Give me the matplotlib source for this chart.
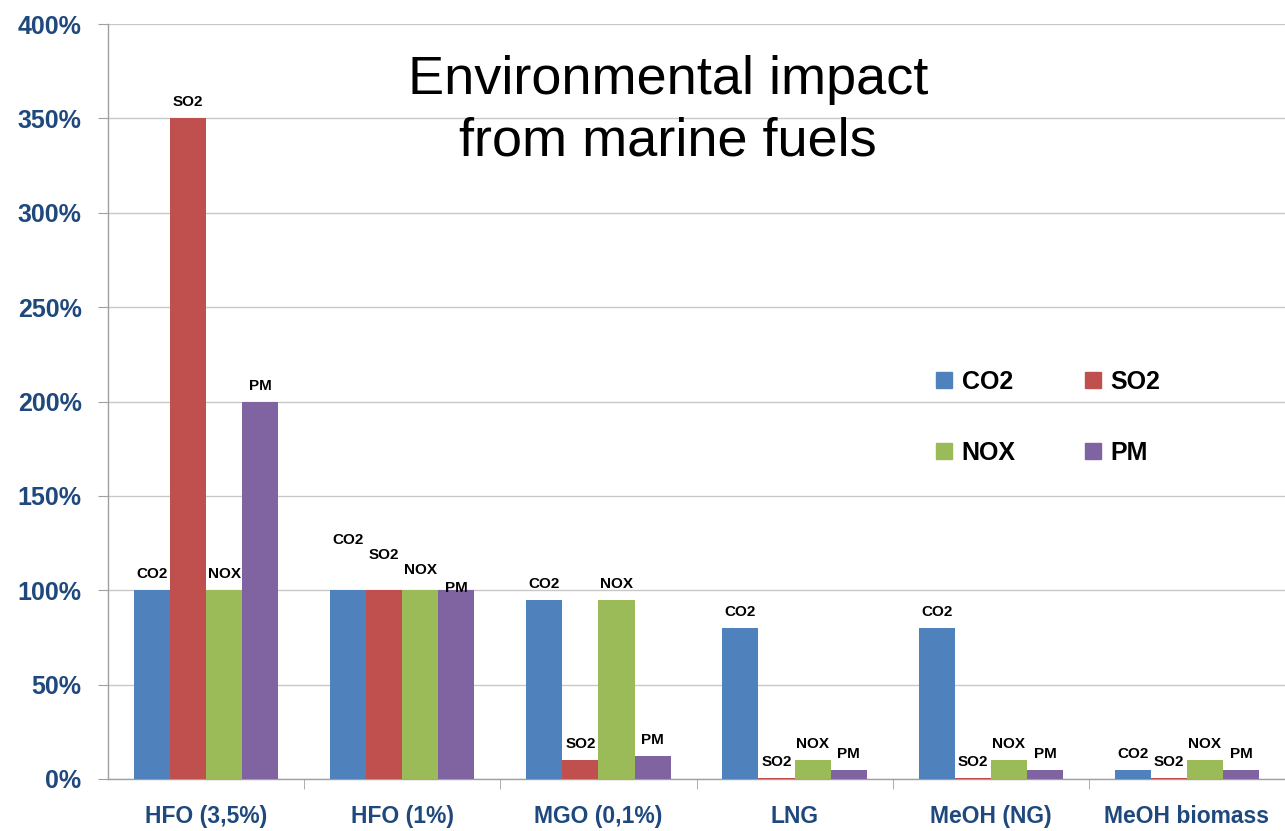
import numpy as np
import matplotlib
matplotlib.use('Agg')
import matplotlib.pyplot as plt
from matplotlib.lines import Line2D

# data (percent)
fuels = ['HFO (3,5%)', 'HFO (1%)', 'MGO (0,1%)', 'LNG', 'MeOH (NG)', 'MeOH biomass']
pollutants = ['CO2', 'SO2', 'NOX', 'PM']
co2 = [100, 100, 95, 80, 80, 5]
so2 = [350, 100, 10, 0.5, 0.5, 0.5]
nox = [100, 100, 95, 10, 10, 10]
pm = [200, 100, 12, 5, 5, 5]
yticks = [0, 50, 100, 150, 200, 250, 300, 350, 400]

series = [co2, so2, nox, pm]
colors = ['#4F81BD', '#C0504D', '#9BBB59', '#8064A2']
label_font = ['Liberation Sans', 'DejaVu Sans']
axis_blue = '#1F497D'

fig = plt.figure(figsize=(12.85, 8.31), dpi=100)
ax = fig.add_axes([108/1285, 1 - 779/831, 1 - 108/1285, (779 - 24)/831])

x = np.arange(len(fuels))
w = 0.184
# extra label lift (pixels) for the crowded HFO (1%) group
lift_hfo1 = [34, 19, 4, -14]

for i, (name, vals, c) in enumerate(zip(pollutants, series, colors)):
    xs = x + (i - 1.5) * w
    ax.bar(xs, vals, width=w, color=c, zorder=3)
    for j, (xx, v) in enumerate(zip(xs, vals)):
        off = 16 + (lift_hfo1[i] if j == 1 else 0)
        ax.annotate(name, (xx, v), xytext=(0, off), textcoords='offset pixels',
                    ha='center', va='center', fontsize=11, fontweight='bold',
                    family=label_font, zorder=4)

ax.set_xlim(-0.5, len(fuels) - 0.5)
ax.set_ylim(0, 400)
ax.set_yticks(yticks)
ax.set_yticklabels([f'{t}%' for t in yticks])
ax.set_xticks(x)
ax.set_xticklabels(fuels)
ax.set_xticks(np.arange(0.5, len(fuels) - 0.5), minor=True)

for lab in ax.get_yticklabels():
    lab.set_family(label_font)
    lab.set_fontweight('bold')
    lab.set_fontsize(18)
    lab.set_color(axis_blue)
for lab in ax.get_xticklabels():
    lab.set_family(label_font)
    lab.set_fontweight('bold')
    lab.set_fontsize(16.5)
    lab.set_color(axis_blue)

ax.tick_params(axis='y', length=7, color='#a0a0a0', pad=12)
ax.tick_params(axis='x', which='major', length=0, pad=19)
ax.tick_params(axis='x', which='minor', length=7, color='#a0a0a0')

ax.yaxis.grid(True, color='#c8c8c8', linewidth=1, zorder=0)
ax.set_axisbelow(True)
for s in ['top', 'right']:
    ax.spines[s].set_visible(False)
for s in ['left', 'bottom']:
    ax.spines[s].set_color('#a0a0a0')
    ax.spines[s].set_linewidth(1)

# legend: 2 columns, CO2/SO2 on first row, NOX/PM on second
handles = [Line2D([], [], marker='s', linestyle='', markersize=11, color=c) for c in colors]
order = [0, 2, 1, 3]
leg = ax.legend([handles[k] for k in order], [pollutants[k] for k in order],
                ncol=2, frameon=False, loc='center', bbox_to_anchor=(0.797, 0.479),
                labelspacing=1.9, columnspacing=2.6, handletextpad=0.2, handlelength=1.0,
                prop={'family': label_font, 'weight': 'bold', 'size': 18})

fig.text(668/1285, 1 - 111/831, 'Environmental impact\nfrom marine fuels',
         ha='center', va='center', fontsize=39, linespacing=1.3,
         family=label_font)

fig.savefig('out.png', dpi=100, facecolor='white')
